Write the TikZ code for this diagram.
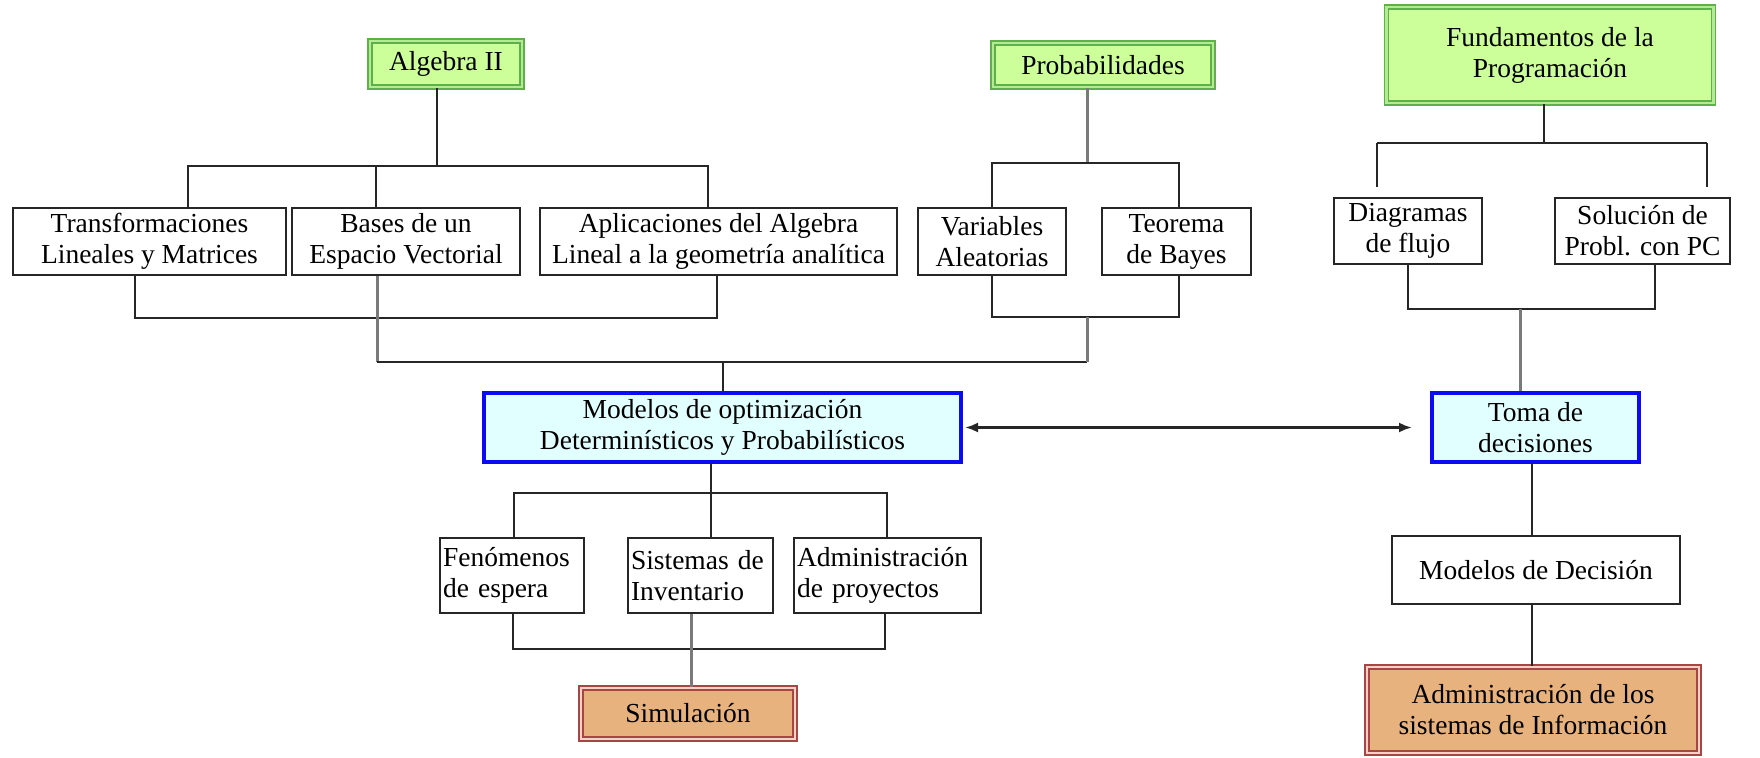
\documentclass[tikz,border=0pt]{standalone}
\usepackage{fontspec}
\setmainfont{Liberation Serif}
\usetikzlibrary{arrows.meta}
\definecolor{gfill}{HTML}{CCFF99}
\definecolor{gline}{HTML}{5DB04A}
\definecolor{gband}{HTML}{B4EA94}
\definecolor{bfill}{HTML}{E2FFFF}
\definecolor{bline}{HTML}{0A0AF5}
\definecolor{rfill}{HTML}{E8B27E}
\definecolor{rline}{HTML}{A84646}
\definecolor{rband}{HTML}{F2D2C4}
\definecolor{cline}{HTML}{262626}
\definecolor{gcline}{HTML}{7A7A7A}
\begin{document}
\begin{tikzpicture}[x=1pt,y=-1pt,
  every node/.style={font=\fontsize{27.5}{31}\selectfont, inner sep=0pt},
  plainbox/.style={draw=cline, line width=1.8pt, fill=white, align=center},
  leftbox/.style={draw=cline, line width=1.8pt, fill=white, align=left, inner xsep=3pt},
  greenbox/.style={draw=gline, double=gband, double distance=2.4pt, line width=1.6pt, fill=gfill, align=center},
  bluebox/.style={draw=bline, line width=4pt, fill=bfill, align=center},
  brownbox/.style={draw=rline, double=rband, double distance=2.4pt, line width=1.6pt, fill=rfill, align=center},
  conn/.style={draw=cline, line width=2.4pt},
  gconn/.style={draw=gcline, line width=3pt},
  link/.style={draw=cline, line width=2.4pt, {Latex[length=13pt,width=10pt]}-{Latex[length=13pt,width=10pt]}}
]
\useasboundingbox (0,0) rectangle (1760,757);

% top row
\node[greenbox, minimum width=152pt, minimum height=46pt] (alg) at (446,64) {Algebra II};
\node[greenbox, minimum width=220pt, minimum height=44pt] (prob) at (1103,65) {Probabilidades};
\node[greenbox, minimum width=327pt, minimum height=96pt] (fund) at (1550,55) {Fundamentos de la\\Programación};

\node[plainbox, minimum width=273pt, minimum height=67pt] (trans) at (149.5,241.5) {Transformaciones\\Lineales y Matrices};
\node[plainbox, minimum width=228pt, minimum height=67pt] (bases) at (406,241.5) {Bases de un\\Espacio Vectorial};
\node[plainbox, minimum width=357pt, minimum height=67pt] (aplic) at (718.5,241.5) {Aplicaciones del Algebra\\Lineal a la geometría analítica};
\node[plainbox, minimum width=148pt, minimum height=67pt] (var) at (992,241.5) {Variables\\Aleatorias};
\node[plainbox, minimum width=149pt, minimum height=67pt] (teo) at (1176.5,241.5) {Teorema\\de Bayes};
\node[plainbox, minimum width=148pt, minimum height=66pt] (diag) at (1408,231) {Diagramas\\de flujo};
\node[plainbox, minimum width=175pt, minimum height=66pt] (sol) at (1642.5,231) {Solución de\\Probl. con PC};

% middle
\node[bluebox, minimum width=477pt, minimum height=69pt] (mod) at (722.5,427.5) {Modelos de optimización\\Determinísticos y Probabilísticos};
\node[bluebox, minimum width=207pt, minimum height=69pt] (toma) at (1535.5,427.5) {Toma de\\decisiones};

% lower
\node[leftbox, minimum width=144pt, minimum height=75pt, text width=138pt] (fen) at (512,575.5) {Fenómenos\\de espera};
\node[leftbox, minimum width=145pt, minimum height=75pt, text width=139pt] (sis) at (700.5,575.5) {Sistemas de\\Inventario};
\node[leftbox, minimum width=187pt, minimum height=75pt, text width=181pt] (adm) at (887.5,575.5) {Administración\\de proyectos};
\node[brownbox, minimum width=214pt, minimum height=51pt] (sim) at (688,713.5) {Simulación};
\node[plainbox, minimum width=288pt, minimum height=68pt] (dec) at (1536,570) {Modelos de Decisión};
\node[brownbox, minimum width=332pt, minimum height=86pt] (asi) at (1533,710) {Administración de los\\sistemas de Información};

% Algebra II tree
\coordinate (ja) at (437,166);
\coordinate (ta) at (188,166);
\coordinate (ba) at (376,166);
\coordinate (aa) at (708,166);
\draw[conn] (alg.south -| ja) -- (ja);
\draw[conn] (ta |- trans.north) -- (ta) -- (aa) -- (aa |- aplic.north);
\draw[conn] (ba |- bases.north) -- (ba);

% bottom bracket trans/aplic
\coordinate (tb) at (135,318);
\coordinate (ab) at (717,318);
\draw[conn] (tb |- trans.south) -- (tb) -- (ab) -- (ab |- aplic.south);

% Probabilidades tree
\coordinate (jp) at (1087,163);
\coordinate (vp) at (992,163);
\coordinate (tp) at (1179,163);
\draw[gconn] (prob.south -| jp) -- (jp);
\draw[conn] (var.north) -- (vp) -- (tp) -- (tp |- teo.north);
\coordinate (vb) at (992,317);
\coordinate (tbb) at (1179,317);
\coordinate (jq) at (1087,317);
\draw[conn] (var.south) -- (vb) -- (tbb) -- (tbb |- teo.south);

% big junction to Modelos
\coordinate (bb) at (377,362);
\coordinate (qb) at (1087,362);
\coordinate (mj) at (723,362);
\draw[gconn] (bb |- bases.south) -- (bb);
\draw[conn] (bb) -- (qb);
\draw[gconn] (jq) -- (qb);
\draw[conn] (mj) -- (mod.north -| mj);

% Modelos subtree
\coordinate (mo) at (711,493);
\coordinate (fo) at (514,493);
\coordinate (ao) at (887,493);
\draw[conn] (mod.south -| mo) -- (mo);
\draw[conn] (fen.north -| fo) -- (fo) -- (ao) -- (adm.north -| ao);
\draw[conn] (mo) -- (sis.north -| mo);
\coordinate (fu) at (513,649);
\coordinate (au) at (885,649);
\coordinate (su) at (691,649);
\draw[conn] (fen.south -| fu) -- (fu) -- (au) -- (adm.south -| au);
\draw[gconn] (sis.south -| su) -- (sim.north -| su);

% Fundamentos tree
\coordinate (jf) at (1544,143);
\coordinate (df) at (1377,143);
\coordinate (sf) at (1707,143);
\draw[conn] (fund.south -| jf) -- (jf);
\draw[conn, shorten >=10pt] (df) -- (diag.north -| df);
\draw[conn] (df) -- (sf);
\draw[conn, shorten >=10pt] (sf) -- (sol.north -| sf);
\coordinate (dg) at (1408,309);
\coordinate (sg) at (1655,309);
\coordinate (tg) at (1520,309);
\draw[conn] (diag.south -| dg) -- (dg) -- (sg) -- (sol.south -| sg);
\draw[gconn] (tg) -- (toma.north -| tg);

% Toma chain
\coordinate (tc) at (1532,0);
\draw[conn] (toma.south -| tc) -- (dec.north -| tc);
\draw[conn] (dec.south -| tc) -- (asi.north -| tc);

% double arrow
\draw[link, shorten <=2pt, shorten >=18pt] (mod.east) -- (toma.west);
\end{tikzpicture}
\end{document}
